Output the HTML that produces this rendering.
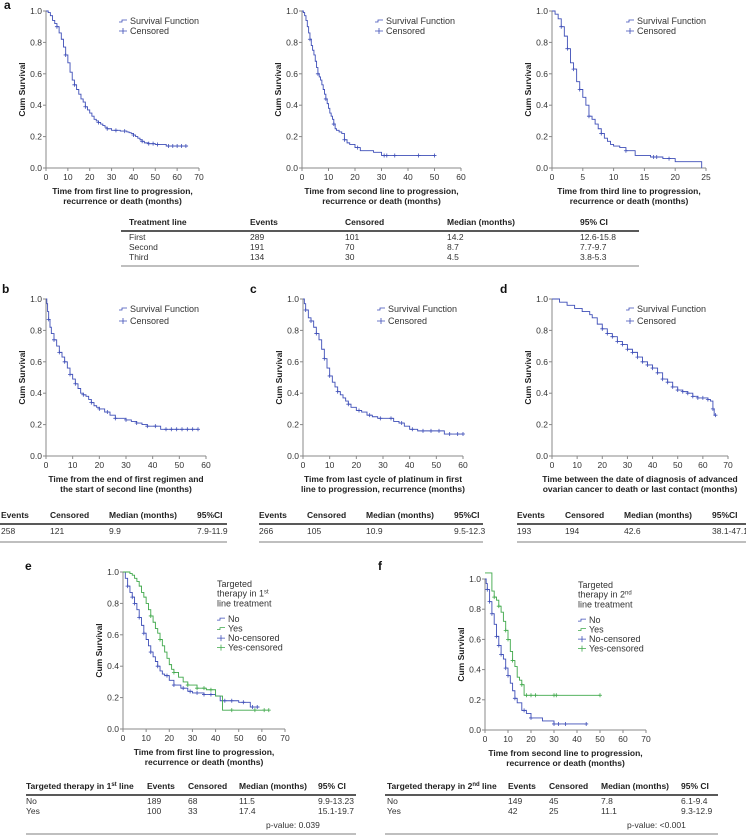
<!DOCTYPE html>
<html><head><meta charset="utf-8">
<style>
html,body{margin:0;padding:0;background:#fff;}
svg{display:block;font-family:"Liberation Sans",Arial,sans-serif;}
.tk{font-size:8.5px;fill:#333;}
.ax{font-size:8.5px;font-weight:bold;fill:#222;}
.lg{font-size:9px;fill:#333;}
.tb{font-size:8.5px;fill:#333;}
.th{font-size:8.5px;font-weight:bold;fill:#222;}
.lt{font-size:12px;font-weight:bold;fill:#111;}
</style></head>
<body>
<svg id="fig" width="746" height="836" viewBox="0 0 746 836" xmlns="http://www.w3.org/2000/svg"></svg>
<script>
// ---- data arrays (time in months, cumulative survival) ----
const a1Times=[0,1,2,3,4,5,6,7,8,9,10,11,12,13,14,15,16,17,18,19,20,21,22,23,24,25,26,27,28,30,32,34,36,37,38,39,40,41,42,43,44,45,47,50,55,65];
const a1Surv=[1,.99,.97,.94,.92,.9,.86,.82,.77,.72,.67,.61,.56,.53,.5,.47,.44,.42,.39,.37,.35,.33,.31,.3,.29,.28,.27,.26,.25,.24,.24,.235,.235,.23,.225,.22,.21,.2,.19,.18,.17,.16,.155,.15,.14,.14];
const a1Cens=[5,9,13,18,24,28,32,36,40,44,47,49,51,56,58,60,62,64];
const a2Times=[0,.5,1,1.5,2,2.5,3,3.5,4,4.5,5,5.5,6,6.5,7,7.5,8,8.5,9,9.5,10,10.5,11,11.5,12,12.5,13,14,15,16,17,18,20,22,27,30,50];
const a2Surv=[1,.99,.97,.94,.9,.86,.82,.78,.75,.72,.68,.64,.6,.58,.56,.53,.5,.47,.44,.41,.38,.35,.33,.31,.28,.25,.24,.23,.22,.18,.16,.15,.13,.11,.1,.08,.08];
const a2Cens=[3,6,9,12,16,21,31,32,35,44,50];
const a3Times=[0,.5,1,1.5,2,2.5,3,3.5,4,4.5,5,5.5,6,6.5,7,7.5,8,8.5,9,9.5,10,11,12,13.5,16,18,20,24.2,24.3];
const a3Surv=[1,.98,.95,.9,.84,.76,.67,.63,.55,.5,.45,.4,.33,.31,.28,.25,.22,.19,.17,.15,.14,.13,.11,.08,.07,.06,.04,.04,0];
const a3Cens=[1.5,2.5,3.5,4.5,6,8,12,16.5,17,19];
const bTimes=[0,.3,.6,1,1.5,2,3,4,5,6,7,8,9,10,11,12,13,14,15,16,17,18,19,20,22,24,26,28,30,32,34,36,38,40,42,43,57];
const bSurv=[1,.97,.92,.87,.82,.78,.74,.7,.66,.63,.6,.56,.52,.49,.46,.43,.4,.39,.38,.36,.34,.32,.31,.3,.28,.26,.24,.24,.23,.22,.21,.2,.19,.19,.19,.17,.17];
const bCens=[1,3,5,7,9,11,14,17,20,23,26,30,34,38,41,45,47,49,51,53,55,57];
const cTimes=[0,.5,1,2,3,4,5,6,7,8,9,10,11,12,13,14,15,16,17,18,20,22,24,26,28,30,32,34,36,38,40,43,53,60];
const cSurv=[1,.97,.93,.88,.86,.82,.78,.74,.68,.62,.56,.51,.47,.44,.41,.39,.37,.35,.33,.31,.29,.28,.26,.25,.24,.24,.24,.22,.21,.19,.17,.16,.14,.14];
const cCens=[1,3,5,8,10,13,17,21,25,29,33,37,41,45,48,51,55,58,60];
const dTimes=[0,3,6,9,12,15,16,18,20,22,24,26,28,30,32,34,36,38,40,42,44,46,48,50,52,54,56,58,60,62,63,64,64.5,65];
const dSurv=[1,.98,.96,.94,.92,.9,.88,.84,.81,.78,.76,.73,.71,.68,.66,.63,.6,.58,.56,.53,.49,.47,.44,.42,.41,.4,.38,.37,.37,.36,.35,.3,.26,.26];
const dCens=[20,22,24,26,28,30,32,34,36,38,40,42,44,46,48,50,52,54,56,58,60,62,64,65];
const eNoTimes=[0,1,2,3,4,5,6,7,8,9,10,11,12,13,14,15,16,17,18,20,22,25,28,30,35,40,42,50,55,59];
const eNoSurv=[1,.96,.91,.87,.84,.8,.76,.71,.66,.61,.57,.53,.49,.46,.43,.4,.37,.35,.34,.31,.28,.26,.24,.23,.22,.21,.18,.17,.14,.14];
const eNoCens=[2,4,5,7,9,12,15,19,22,26,29,32,35,38,44,47,52,56,58];
const eYesTimes=[0,3,4,5,6,7,8,9,10,11,12,13,14,15,16,17,18,19,20,21,22,24,26,28,32,36,40,43,63];
const eYesSurv=[1,.99,.98,.96,.94,.91,.87,.84,.8,.76,.72,.68,.64,.61,.57,.53,.49,.45,.41,.38,.36,.33,.3,.28,.26,.25,.21,.12,.12];
const eYesCens=[12,16,22,28,32,35,38,47,57,61,63];
const fNoTimes=[0,0.5,1,2,3,4,5,6,7,8,9,10,11,12,13,14,16,18,20,25,30,44];
const fNoSurv=[1,.97,.93,.85,.77,.7,.62,.56,.5,.47,.41,.36,.31,.26,.21,.18,.13,.11,.08,.06,.04,.04];
const fNoCens=[1,2,3,5,6,7,9,10,13,17,20,30,32,35,44];
const fYesTimes=[0,3,4,5,6,7,8,9,10,11,12,13,14,15,16,17,50];
const fYesSurv=[1.04,.92,.88,.86,.82,.78,.72,.66,.6,.52,.46,.42,.35,.33,.3,.23,.23];
const fYesCens=[4,6,9,10,12,16,18,20,22,30,31,50];

const svg=document.getElementById('fig');
const NS='http://www.w3.org/2000/svg';
function mk(tag,attrs,parent,text){const e=document.createElementNS(NS,tag);for(const k in attrs)e.setAttribute(k,attrs[k]);if(text!==undefined)e.textContent=text;(parent||svg).appendChild(e);return e;}
const BLUE='#3f4fb8',GREEN='#3fa84a';

function stepAt(ts,ss,t){let v=ss[0];for(let i=0;i<ts.length;i++){if(ts[i]<=t)v=ss[i];}return v;}

function panel(id,x0,x1,y1,y0,xmax,xstep,titleLines,series,legend){
  const g=mk('g',{},svg);
  
  
  const X=t=>x0+(x1-x0)*t/xmax, Y=s=>y0-(y0-y1)*s;
  const ya=mk('line',{x1:x0,y1:y1,x2:x0,y2:y0,stroke:'#888','stroke-width':1},g);
  
  const xa=mk('line',{x1:x0,y1:y0,x2:x1,y2:y0,stroke:'#888','stroke-width':1},g);
  
  for(let v=0;v<=1.0001;v+=0.2){const yy=Y(v);mk('line',{x1:x0-3,y1:yy,x2:x0,y2:yy,stroke:'#888'},g);
    const t=mk('text',{x:x0-4,y:yy+3,'text-anchor':'end',class:'tk'},g,v.toFixed(1));
    }
  for(let v=0;v<=xmax;v+=xstep){const xx=X(v);mk('line',{x1:xx,y1:y0,x2:xx,y2:y0+3,stroke:'#888'},g);
    const t=mk('text',{x:xx,y:y0+12,'text-anchor':'middle',class:'tk'},g,String(v));
    }
  const yt=mk('text',{x:0,y:0,transform:`translate(${x0-21},${(y0+y1)/2}) rotate(-90)`,'text-anchor':'middle',class:'ax'},g,'Cum Survival');
  
  titleLines.forEach((l,i)=>{const t=mk('text',{x:(x0+x1)/2,y:y0+26+i*10,'text-anchor':'middle',class:'ax'},g,l);
    });
  series.forEach(s=>{
    let d=`M${X(s.t[0])},${Y(s.s[0])}`;
    for(let i=1;i<s.t.length;i++){d+=`H${X(s.t[i])}V${Y(s.s[i])}`;}
    const p=mk('path',{d:d,fill:'none',stroke:s.c,'stroke-width':0.9},g);
    
    s.cens.forEach(ct=>{const cx=X(ct),cy=Y(stepAt(s.t,s.s,ct));
      const m=mk('path',{d:`M${cx-2},${cy}H${cx+2}M${cx},${cy-2}V${cy+2}`,stroke:s.c,'stroke-width':0.8},g);
      });
  });
  if(legend){
    let ly=legend.y;
    (legend.title||[]).forEach(l=>{const t=mk('text',{x:legend.x,y:ly,class:'lg'},g);t.innerHTML=l;
      ly+=9.7;});
    if(legend.title)ly+=6;
    legend.items.forEach(it=>{
      if(it.k==='line')mk('path',{d:`M${legend.x},${ly-2}h3v-2h5`,fill:'none',stroke:it.c,'stroke-width':0.8},g);
      else mk('path',{d:`M${legend.x},${ly-3}h8M${legend.x+4},${ly-6}v6`,stroke:it.c,'stroke-width':0.8},g);
      const t=mk('text',{x:legend.x+11,y:ly,class:'lg'},g,it.l);
      
      ly+=legend.gap||10;});
  }
}
const L2=[{k:'line',c:BLUE,l:'Survival Function'},{k:'cens',c:BLUE,l:'Censored'}];
panel('a-first-line',46,199,11,168,70,10,['Time from first line to progression,','recurrence or death (months)'],
  [{t:a1Times,s:a1Surv,cens:a1Cens,c:BLUE,n:'first-line'}],{x:119,y:24,items:L2});
panel('a-second-line',302,461,11,168,60,10,['Time from second line to progression,','recurrence or death (months)'],
  [{t:a2Times,s:a2Surv,cens:a2Cens,c:BLUE,n:'second-line'}],{x:375,y:24,items:L2});
panel('a-third-line',552,706,11,168,25,5,['Time from third line to progression,','recurrence or death (months)'],
  [{t:a3Times,s:a3Surv,cens:a3Cens,c:BLUE,n:'third-line'}],{x:626,y:24,items:L2});
panel('b',46,206,299,456,60,10,['Time from the end of first regimen and','the start of second line (months)'],
  [{t:bTimes,s:bSurv,cens:bCens,c:BLUE,n:'b'}],{x:119,y:312,gap:12,items:L2});
panel('c',303,463,299,456,60,10,['Time from last cycle of platinum in first','line to progression, recurrence (months)'],
  [{t:cTimes,s:cSurv,cens:cCens,c:BLUE,n:'c'}],{x:377,y:312,gap:12,items:L2});
panel('d',552,728,299,456,70,10,['Time between the date of diagnosis of advanced','ovarian cancer to death or last contact (months)'],
  [{t:dTimes,s:dSurv,cens:dCens,c:BLUE,n:'d'}],{x:626,y:312,gap:12,items:L2});
const L4=[{k:'line',c:BLUE,l:'No'},{k:'line',c:GREEN,l:'Yes'},{k:'cens',c:BLUE,l:'No-censored'},{k:'cens',c:GREEN,l:'Yes-censored'}];
panel('e',123,285,572,729,70,10,['Time from first line to progression,','recurrence or death (months)'],
  [{t:eNoTimes,s:eNoSurv,cens:eNoCens,c:BLUE,n:'e-no'},{t:eYesTimes,s:eYesSurv,cens:eYesCens,c:GREEN,n:'e-yes'}],
  {x:217,y:587,title:['Targeted','therapy in 1<tspan font-size="6" dy="-3">st</tspan>','line treatment'],gap:9.5,items:L4});
panel('f',485,646,579,730,70,10,['Time from second line to progression,','recurrence or death (months)'],
  [{t:fNoTimes,s:fNoSurv,cens:fNoCens,c:BLUE,n:'f-no'},{t:fYesTimes,s:fYesSurv,cens:fYesCens,c:GREEN,n:'f-yes'}],
  {x:578,y:588,title:['Targeted','therapy in 2<tspan font-size="6" dy="-3">nd</tspan>','line treatment'],gap:9.5,items:L4});

[['a',4,9],['b',2,293],['c',250,293],['d',500,293],['e',25,570],['f',378,570]].forEach(p=>{
  const t=mk('text',{x:p[1],y:p[2],class:'lt'},svg,p[0]);
  });

function table(id,x0,x1,cols,hy,header,rows,rowY,bottom,extra){
  const g=mk('g',{},svg);
  
  
  header.forEach((h,i)=>{const t=mk('text',{x:cols[i],y:hy,class:'th'},g);t.innerHTML=h;});
  mk('line',{x1:x0,y1:hy+6,x2:x1,y2:hy+6,stroke:'#222','stroke-width':1.4},g);
  rows.forEach((r,j)=>r.forEach((c,i)=>mk('text',{x:cols[i],y:rowY[j],class:'tb'},g,c)));
  if(extra)mk('text',{x:extra[0],y:extra[1],class:'tb'},g,extra[2]);
  mk('line',{x1:x0,y1:bottom,x2:x1,y2:bottom,stroke:'#999','stroke-width':1.2},g);
}
table('treatment-line-table',121,639,[129,250,345,447,580],225,['Treatment line','Events','Censored','Median (months)','95% CI'],
  [['First','289','101','14.2','12.6-15.8'],['Second','191','70','8.7','7.7-9.7'],['Third','134','30','4.5','3.8-5.3']],[240,250,260],266);
table('b-table',0,227,[1,50,109,197],518,['Events','Censored','Median (months)','95%CI'],[['258','121','9.9','7.9-11.9']],[534],542);
table('c-table',259,483,[259,307,366,454],518,['Events','Censored','Median (months)','95%CI'],[['266','105','10.9','9.5-12.3']],[534],542);
table('d-table',517,746,[517,565,624,712],518,['Events','Censored','Median (months)','95%CI'],[['193','194','42.6','38.1-47.1']],[534],542);
table('e-table',26,356,[26,147,188,239,318],789,['Targeted therapy in 1<tspan font-size="6" dy="-3">st</tspan><tspan dy="3"> line</tspan>','Events','Censored','Median (months)','95% CI'],
  [['No','189','68','11.5','9.9-13.23'],['Yes','100','33','17.4','15.1-19.7']],[804,814],834,[266,828,'p-value: 0.039']);
table('f-table',385,718,[387,508,549,601,681],789,['Targeted therapy in 2<tspan font-size="6" dy="-3">nd</tspan><tspan dy="3"> line</tspan>','Events','Censored','Median (months)','95% CI'],
  [['No','149','45','7.8','6.1-9.4'],['Yes','42','25','11.1','9.3-12.9']],[804,814],834,[627,828,'p-value: <0.001']);
</script>
</body></html>
